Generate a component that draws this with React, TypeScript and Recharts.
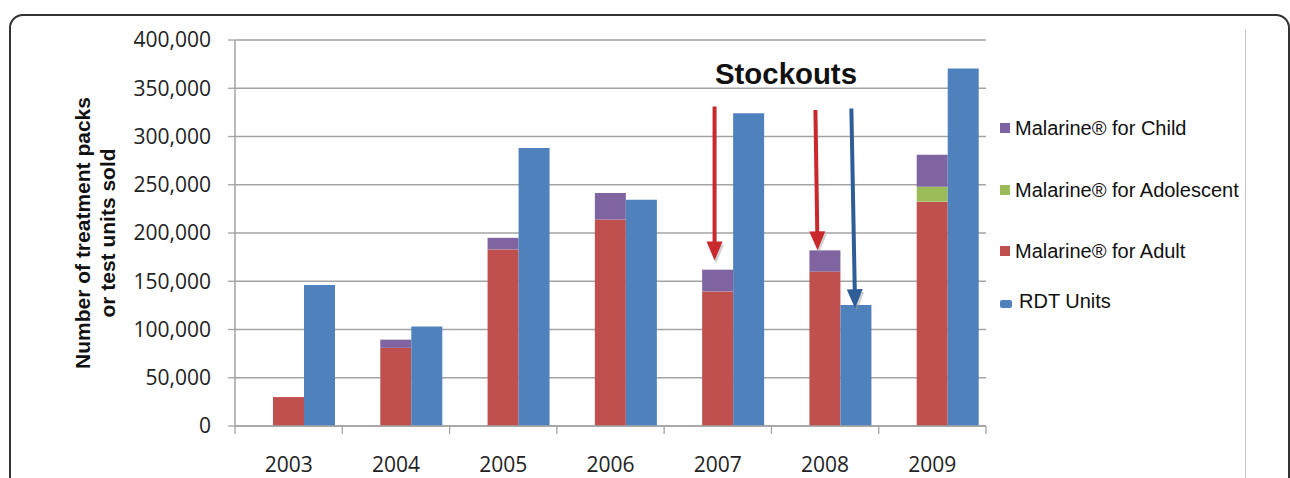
import React from "react";
import { Bar, BarChart, CartesianGrid, ReferenceLine, XAxis, YAxis } from "recharts";

// Malarine packs (stacked) vs RDT units sold per year
const years = ["2003", "2004", "2005", "2006", "2007", "2008", "2009"];
const blankSlot = [0, 0, 0, 0, 0, 0, 0];
const adultPacks = [30000, 81000, 183000, 214000, 139500, 160000, 232500];
const adolescentPacks = [0, 0, 0, 0, 0, 0, 15500];
const childPacks = [0, 8500, 12000, 27500, 22500, 22000, 33000];
const rdtUnits = [146000, 103000, 288000, 234500, 324000, 125500, 370500];
const yTicks = [0, 50000, 100000, 150000, 200000, 250000, 300000, 350000, 400000];

// stockout arrows, in (category index, value) space of the edge axis
const stockoutArrows = [
  { x1: 4.47, y1: 331000, x2: 4.47, y2: 171500, color: "#c9282d" },
  { x1: 5.41, y1: 327500, x2: 5.43, y2: 182000, color: "#c9282d" },
  { x1: 5.745, y1: 329000, x2: 5.78, y2: 122000, color: "#2e5d97" },
];

const COLORS = {
  adult: "#c0504d",
  adolescent: "#9bbb59",
  child: "#8064a2",
  rdt: "#4f81bd",
};

const legendItems = [
  { label: "Malarine® for Child", color: COLORS.child, top: 118 },
  { label: "Malarine® for Adolescent", color: COLORS.adolescent, top: 180 },
  { label: "Malarine® for Adult", color: COLORS.adult, top: 241 },
  { label: "RDT Units", color: COLORS.rdt, top: 291, round: true },
];

const data = years.map((year, i) => ({
  year,
  slot: i + 0.5,
  blank: blankSlot[i],
  adult: adultPacks[i],
  adolescent: adolescentPacks[i],
  child: childPacks[i],
  rdt: rdtUnits[i],
}));

const edgeTicks = [...years.map((_, i) => i), years.length];

const GRID = "#a3a3a3";
const TICK_FONT = "'Open Sans', sans-serif";
const ARIAL = "'Liberation Sans', Arial, sans-serif";

function StockoutArrow(props: any) {
  const { x1 = 0, y1 = 0, x2 = 0, y2 = 0, stroke } = props;
  // tip is the lower end
  const [tx, ty, sx, sy] = y2 > y1 ? [x2, y2, x1, y1] : [x1, y1, x2, y2];
  const len = Math.hypot(tx - sx, ty - sy) || 1;
  const ux = (tx - sx) / len;
  const uy = (ty - sy) / len;
  const headLen = 19;
  const half = 8;
  const bx = tx - ux * headLen;
  const by = ty - uy * headLen;
  const px = -uy;
  const py = ux;
  const head = `${tx},${ty} ${bx + px * half},${by + py * half} ${bx - px * half},${by - py * half}`;
  return (
    <g>
      <polygon points={head} fill="#9a9a9a" opacity={0.45} transform="translate(1.5,3)" />
      <line x1={sx} y1={sy} x2={bx + ux * 2} y2={by + uy * 2} stroke={stroke} strokeWidth={4} />
      <polygon points={head} fill={stroke} />
    </g>
  );
}

// short tick mark on each category boundary
function EdgeTick(props: any) {
  const { x = 0, y = 0 } = props;
  return <line x1={x} y1={y - 8} x2={x} y2={y} stroke={GRID} strokeWidth={1.3} />;
}

function YLabel(props: any) {
  const vb = props.viewBox ?? { x: 0, y: 40, width: 235, height: 386 };
  const cy = vb.y + vb.height / 2;
  return (
    <text
      transform="rotate(-90)"
      textAnchor="middle"
      fontFamily={ARIAL}
      fontWeight={700}
      fontSize={21}
      fill="#111"
    >
      <tspan x={-cy} y={vb.x + 90}>Number of treatment packs</tspan>
      <tspan x={-cy} y={vb.x + 115}>or test units sold</tspan>
    </text>
  );
}

export default function App() {
  return (
    <div style={{ position: "absolute", left: 0, top: 0, width: 1290, height: 478, overflow: "hidden", background: "#fff" }}>
      <div
        style={{
          position: "absolute",
          left: 9,
          top: 14,
          width: 1281,
          height: 600,
          boxSizing: "border-box",
          border: "2px solid #333",
          borderRadius: 14,
        }}
      />
      <div style={{ position: "absolute", left: 1245, top: 30, width: 1, height: 460, background: "#c4c4c4" }} />

      <BarChart
        width={1290}
        height={478}
        data={data}
        margin={{ top: 40, right: 304, bottom: 0, left: 0 }}
        barCategoryGap={7}
        barGap={0}
        style={{ position: "absolute", left: 0, top: 0 }}
      >
        <CartesianGrid vertical={false} stroke={GRID} strokeWidth={1.3} />
        <XAxis
          dataKey="year"
          height={1}
          interval={0}
          tickLine={false}
          tickSize={0}
          tickMargin={31}
          axisLine={{ stroke: GRID, strokeWidth: 1.5 }}
          tick={{ fontFamily: TICK_FONT, fontSize: 21, fill: "#222" }}
        />
        <XAxis
          xAxisId="edge"
          dataKey="slot"
          type="number"
          domain={[0, years.length]}
          ticks={edgeTicks}
          interval={0}
          allowDataOverflow
          height={51}
          axisLine={false}
          tickLine={false}
          tickSize={7}
          tickMargin={0}
          tick={<EdgeTick />}
        />
        <YAxis
          domain={[0, 400000]}
          ticks={yTicks}
          interval={0}
          width={235}
          tickSize={7}
          tickMargin={17}
          tickFormatter={(v: number) => v.toLocaleString("en-US")}
          axisLine={{ stroke: GRID, strokeWidth: 1.5 }}
          tickLine={{ stroke: GRID, strokeWidth: 1.3 }}
          tick={{ fontFamily: TICK_FONT, fontSize: 21, fill: "#222" }}
          label={{ content: (p: any) => <YLabel {...p} /> }}
        />
        <Bar dataKey="blank" stackId="spacer" fill="transparent" legendType="none" isAnimationActive={false} />
        <Bar dataKey="adult" stackId="malarine" fill={COLORS.adult} isAnimationActive={false} />
        <Bar dataKey="adolescent" stackId="malarine" fill={COLORS.adolescent} isAnimationActive={false} />
        <Bar dataKey="child" stackId="malarine" fill={COLORS.child} isAnimationActive={false} />
        <Bar dataKey="rdt" stackId="rdt" fill={COLORS.rdt} isAnimationActive={false} />
        {stockoutArrows.map((a, i) => (
          <ReferenceLine
            key={i}
            xAxisId="edge"
            ifOverflow="visible"
            stroke={a.color}
            segment={[
              { x: a.x1, y: a.y1 },
              { x: a.x2, y: a.y2 },
            ]}
            shape={(p: any) => <StockoutArrow {...p} stroke={a.color} />}
          />
        ))}
      </BarChart>

      <svg width={1290} height={478} style={{ position: "absolute", left: 0, top: 0, pointerEvents: "none" }}>
        <text
          x={786}
          y={84}
          textAnchor="middle"
          fontFamily={ARIAL}
          fontWeight={700}
          fontSize={30}
          textLength={142}
          lengthAdjust="spacingAndGlyphs"
          fill="#111"
        >
          Stockouts
        </text>
      </svg>

      {legendItems.map((item) => (
        <div
          key={item.label}
          style={{
            position: "absolute",
            left: 1000,
            top: item.top,
            height: 20,
            display: "flex",
            alignItems: "center",
            fontFamily: ARIAL,
            fontSize: 20,
            color: "#111",
            whiteSpace: "nowrap",
          }}
        >
          <span
            style={{
              display: "inline-block",
              width: item.round ? 12 : 10,
              height: item.round ? 8 : 10,
              borderRadius: item.round ? 2 : 0,
              background: item.color,
              marginRight: item.round ? 7 : 5,
              marginTop: item.round ? 6 : 0,
            }}
          />
          {item.label}
        </div>
      ))}
    </div>
  );
}
